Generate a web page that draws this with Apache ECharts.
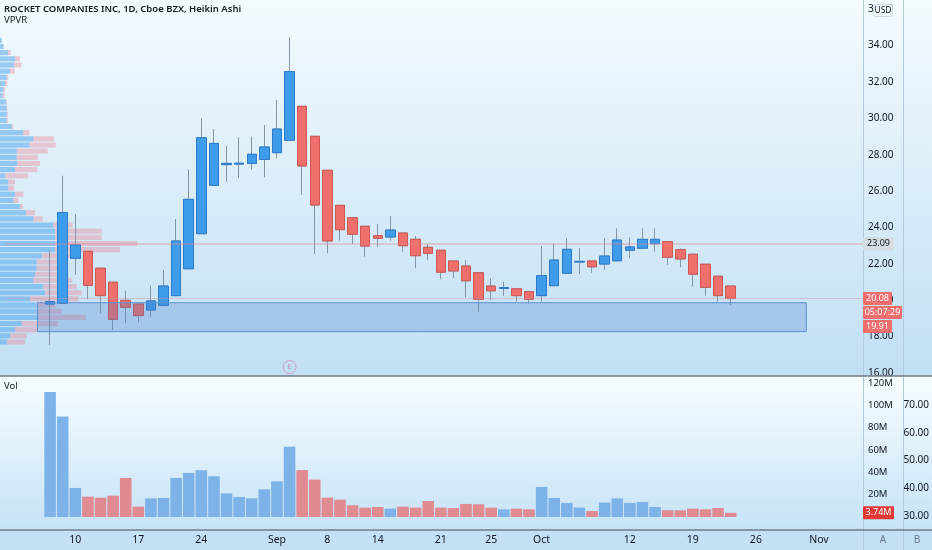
<!DOCTYPE html>
<html>
<head>
<meta charset="utf-8">
<script src="https://cdn.jsdelivr.net/npm/echarts@6/dist/echarts.min.js"></script>
<style>
html,body{margin:0;padding:0;background:#e4f2fb;}
#chart{width:932px;height:550px;}
</style>
</head>
<body>
<div id="chart"></div>
<script>
// trading days (3 empty slots before the IPO, 10 empty slots at the right)
var dates = ['Aug 3','Aug 4','Aug 5','Aug 6','Aug 7','Aug 10','Aug 11','Aug 12','Aug 13','Aug 14',
	'Aug 17','Aug 18','Aug 19','Aug 20','Aug 21','Aug 24','Aug 25','Aug 26','Aug 27','Aug 28','Aug 31',
	'Sep 1','Sep 2','Sep 3','Sep 4','Sep 8','Sep 9','Sep 10','Sep 11','Sep 14','Sep 15','Sep 16','Sep 17','Sep 18',
	'Sep 21','Sep 22','Sep 23','Sep 24','Sep 25','Sep 28','Sep 29','Sep 30','Oct 1','Oct 2','Oct 5','Oct 6','Oct 7',
	'Oct 8','Oct 9','Oct 12','Oct 13','Oct 14','Oct 15','Oct 16','Oct 19','Oct 20','Oct 21','Oct 22','Oct 23',
	'Oct 26','Oct 27','Oct 28','Oct 29','Oct 30','Nov 2','Nov 3','Nov 4','Nov 5'];
var firstDate = 'Aug 6';

// heikin ashi candles: [open, close, low, high]
var candles = [
	[19.78,19.91,17.52,22.75],[19.82,24.81,19.82,26.84],[22.30,23.03,21.38,24.73],[22.68,20.81,20.04,22.68],
	[21.75,20.24,19.27,21.75],[20.98,18.94,18.35,20.98],[19.98,19.60,18.72,20.50],[19.78,19.14,18.77,19.78],
	[19.45,19.95,19.05,20.79],[19.71,20.77,19.71,21.65],[20.24,23.25,20.24,24.46],[21.72,25.54,21.72,27.19],
	[23.65,28.93,23.65,30.00],[26.31,28.62,26.31,29.41],[27.45,27.52,26.51,28.47],[27.48,27.53,26.70,28.95],
	[27.52,28.02,27.19,28.99],[27.74,28.42,26.75,29.63],[28.11,29.41,27.80,31.01],[28.79,32.57,28.79,34.46],
	[30.66,27.38,25.78,30.66],[29.01,25.23,22.53,29.01],[27.14,23.25,22.57,27.14],[25.21,23.87,23.26,25.21],
	[24.53,23.62,23.08,24.53],[24.06,22.97,22.38,24.06],[23.54,23.40,22.90,24.18],[23.47,23.85,23.26,24.62],
	[23.69,22.99,22.66,23.69],[23.34,22.44,21.75,23.52],[22.90,22.57,22.20,23.07],[22.74,21.53,21.14,22.74],
	[22.15,21.60,21.20,22.15],[21.87,21.06,20.15,22.20],[21.50,20.04,19.36,21.50],[20.77,20.51,20.00,21.20],
	[20.64,20.68,20.22,21.01],[20.62,20.24,19.91,20.62],[20.46,20.04,19.82,20.46],[20.24,21.34,19.91,22.97],
	[20.79,22.20,20.79,23.12],[21.47,22.79,21.47,23.40],[22.09,22.13,21.43,22.85],[22.15,21.83,21.50,22.15],
	[21.98,22.42,21.65,23.40],[22.16,23.30,22.16,23.95],[22.74,22.92,22.30,23.45],[22.85,23.34,22.85,23.95],
	[23.10,23.34,22.66,23.95],[23.21,22.35,21.93,23.21],[22.77,22.26,21.80,22.85],[22.52,21.42,20.73,22.52],
	[21.97,20.70,20.24,21.97],[21.31,20.24,19.91,21.31],[20.77,20.08,19.73,20.77]
];

// daily volume, millions
var volumes = [112,90,26,18.2,17.3,19.1,35,9.3,16.7,17,35,39.5,41.9,36.5,21.2,17.9,16.7,24.8,32,62.8,
	42,33.5,17.3,15.5,10.5,8.4,9,7.5,9.3,8.4,14.3,8.4,8,11.7,11.4,8.4,6.9,7.5,6.9,26.9,
	17,12.6,8.4,5.4,12.9,16.7,12.6,13.5,9,6,6,7.5,6.9,8.1,3.74];

// bottom axis labels
var tickDates = ['Aug 10','Aug 17','Aug 24','Sep 1','Sep 8','Sep 14','Sep 21','Sep 25','Oct 1','Oct 12','Oct 19','Oct 26','Nov 2'];
var tickTexts = ['10','17','24','Sep','8','14','21','25','Oct','12','19','26','Nov'];

// visible range volume profile (rows top -> bottom), relative volume
var vpLevels = ['34.29','33.95','33.61','33.27','32.94','32.60','32.26','31.92','31.58','31.24',
	'30.90','30.56','30.23','29.89','29.55','29.21','28.87','28.53','28.19','27.85',
	'27.51','27.18','26.84','26.50','26.16','25.82','25.48','25.14','24.80','24.47',
	'24.13','23.79','23.45','23.11','22.77','22.43','22.09','21.76','21.42','21.08',
	'20.74','20.40','20.06','19.72','19.38','19.04','18.71','18.37','18.03','17.69'];
var vpUp = [1.7,3.3,8.3,15,14,10,6.7,5,3.3,2.7,6,6.7,6.7,6.7,11.7,23.3,33.3,29.3,16.7,16.7,
	17.3,15,4.7,8.3,8.3,15,13.3,20,26,33.3,53.3,55,55,55,55,41.7,36.7,36.7,35,33.3,
	43.3,45,30,36.7,36.7,38.3,21.7,15,10,6.7];
var vpDown = [0,0.7,2.4,5,7.3,4.7,1.6,2.3,1.7,2,0.7,0.6,1.3,1.3,1.6,6,20.7,26.4,31,21,
	22.7,22.3,23.3,6.7,5.7,8.3,5,2.7,9,9.4,19.4,46.7,46.7,82.3,65,29,23.3,21.6,21.7,38.4,
	33.4,36.7,48.3,18.3,25,47.7,36.6,23.3,16.7,18.3];
var vpHigh = 34.46, vpLow = 17.52;

var pocPrice = 23.09;
var lastPrice = 20.08;
var realPrice = 19.91;
var countdown = '05:07:29';
var lastVolume = 3.74;
var zoneTop = 19.85, zoneBottom = 18.26, zoneFrom = 'Aug 5', zoneTo = 'Oct 30';
var earnDate = 'Sep 2', earnPrice = 16.31;

var upColor = '#3f9ceb', upBorder = '#2a7cca', downColor = '#ef6f6c', downBorder = '#cf5754';
var wickColor = '#8695a6';
var font = 'Noto Sans';

// layout of the panes
var W = 932, axisX = 863, axis2X = 903;
var priceTop = 9.3, priceH = 363.4, priceMin = 16, priceMax = 36;
function priceY(p){ return priceTop + (priceMax - p) / (priceMax - priceMin) * priceH; }

var chart = echarts.init(document.getElementById('chart'));

var off = dates.indexOf(firstDate);
var candleData = dates.map(function(d, i){
	var c = candles[i - off];
	return c ? c : '-';
});
var bodyData = dates.map(function(d, i){
	var c = candles[i - off];
	return c ? [c[0], c[1], Math.min(c[0], c[1]), Math.max(c[0], c[1])] : '-';
});
var volData = dates.map(function(d, i){
	var c = candles[i - off];
	if(!c) return '-';
	return {value: volumes[i - off], itemStyle: {color: c[1] >= c[0] ? '#7db3e8' : '#e08a92'}};
});

function grad(c1, c2){
	return new echarts.graphic.LinearGradient(0, 0, 0, 1, [{offset: 0, color: c1}, {offset: 1, color: c2}]);
}

option = {
	animation: false,
	textStyle: {fontFamily: font},
	grid: [
		{left: 6, right: W - axisX, top: priceTop, height: priceH},
		{left: 6, right: W - axisX, top: 383, height: 134},
		{left: 0, width: 300, top: priceY(vpHigh), height: priceY(vpLow) - priceY(vpHigh)},
		{left: 6, right: W - axis2X, top: 377.25, height: 138.75}
	],
	xAxis: [
		{type: 'category', gridIndex: 0, data: dates, show: false},
		{type: 'category', gridIndex: 1, data: dates,
			axisLine: {show: false}, axisTick: {show: false},
			axisLabel: {
				margin: 18, color: '#131722', fontSize: 10.5,
				interval: function(i, v){ return tickDates.indexOf(v) >= 0; },
				formatter: function(v){ return tickTexts[tickDates.indexOf(v)]; }
			}},
		{type: 'value', gridIndex: 2, min: 0, max: 300, show: false},
		{type: 'value', gridIndex: 3, min: 0, max: 1, show: false}
	],
	yAxis: [
		{type: 'value', gridIndex: 0, position: 'right', min: priceMin, max: priceMax, interval: 2,
			splitLine: {show: false}, axisLine: {show: false}, axisTick: {show: false},
			axisLabel: {color: '#131722', fontSize: 10, margin: 5, formatter: function(v){ return v.toFixed(2); }}},
		{type: 'value', gridIndex: 1, position: 'right', min: 0, max: 120, interval: 20,
			splitLine: {show: false}, axisLine: {show: false}, axisTick: {show: false},
			axisLabel: {color: '#131722', fontSize: 9.5, margin: 5, showMinLabel: false, formatter: function(v){ return v + 'M'; }}},
		{type: 'category', gridIndex: 2, data: vpLevels, inverse: true, show: false},
		{type: 'value', gridIndex: 3, position: 'right', min: 30, max: 80, interval: 10,
			splitLine: {show: false}, axisLine: {show: false}, axisTick: {show: false},
			axisLabel: {color: '#131722', fontSize: 10, margin: 5, formatter: function(v){ return v > 75 ? '' : v.toFixed(2); }}}
	],
	series: [
		{
			name: 'vpUp', type: 'bar', xAxisIndex: 2, yAxisIndex: 2, stack: 'vp', data: vpUp,
			barWidth: 5.2, silent: true, z: 1, itemStyle: {color: 'rgba(70,160,235,0.5)'}
		},
		{
			name: 'vpDown', type: 'bar', xAxisIndex: 2, yAxisIndex: 2, stack: 'vp', data: vpDown,
			barWidth: 5.2, silent: true, z: 1, itemStyle: {color: 'rgba(238,120,135,0.35)'}
		},
		{
			name: 'wick', type: 'candlestick', xAxisIndex: 0, yAxisIndex: 0, data: candleData, barWidth: 10, z: 2,
			itemStyle: {color: wickColor, color0: wickColor, borderColor: wickColor, borderColor0: wickColor, borderWidth: 1}
		},
		{
			name: 'body', type: 'candlestick', xAxisIndex: 0, yAxisIndex: 0, data: bodyData, barWidth: 10, z: 3,
			itemStyle: {color: upColor, color0: downColor, borderColor: upBorder, borderColor0: downBorder, borderWidth: 1},
			markLine: {
				silent: true, symbol: 'none', label: {show: false},
				data: [
					{yAxis: pocPrice, lineStyle: {color: 'rgba(232,130,140,0.45)', width: 1.5, type: 'solid'}},
					{yAxis: lastPrice, lineStyle: {color: 'rgba(200,150,160,0.45)', width: 1, type: 'solid'}}
				]
			},
			markArea: {
				silent: true, z: 6,
				itemStyle: {color: 'rgba(70,125,205,0.27)', borderColor: '#5a92d4', borderWidth: 1},
				data: [[{xAxis: zoneFrom, yAxis: zoneTop}, {xAxis: zoneTo, yAxis: zoneBottom}]]
			}
		},
		{
			name: 'earnings', type: 'scatter', xAxisIndex: 0, yAxisIndex: 0, data: [[earnDate, earnPrice]],
			symbol: 'circle', symbolSize: 13, silent: true, z: 4,
			itemStyle: {color: 'rgba(255,255,255,0)', borderColor: '#cf93b4', borderWidth: 1},
			label: {show: true, position: 'inside', formatter: 'E', color: '#b97c99', fontSize: 7.5}
		},
		{
			name: 'Vol', type: 'bar', xAxisIndex: 1, yAxisIndex: 1, data: volData, barCategoryGap: '8%', z: 2
		}
	]
};
chart.setOption(option);

// decorations: pane backgrounds, separators, captions and price tags
var g = [
	{type: 'rect', z: -10, shape: {x: 0, y: 0, width: W, height: 376}, style: {fill: grad('#f3fbfe', '#c1dff4')}},
	{type: 'rect', z: -10, shape: {x: 0, y: 376, width: W, height: 154}, style: {fill: grad('#f6fdff', '#c6e3f7')}},
	{type: 'rect', z: -10, shape: {x: 0, y: 530, width: W, height: 20}, style: {fill: '#c3e0f5'}},
	{type: 'line', z: 50, shape: {x1: axisX + 0.5, y1: 0, x2: axisX + 0.5, y2: 550}, style: {stroke: '#b2cadc', lineWidth: 1}},
	{type: 'line', z: 50, shape: {x1: axis2X + 0.5, y1: 0, x2: axis2X + 0.5, y2: 550}, style: {stroke: '#b2cadc', lineWidth: 1}},
	{type: 'line', z: 50, shape: {x1: 0, y1: 376, x2: W, y2: 376}, style: {stroke: '#6f7c88', lineWidth: 1.5}},
	{type: 'line', z: 50, shape: {x1: 0, y1: 530, x2: W, y2: 530}, style: {stroke: '#6f7c88', lineWidth: 1.5}},
	{type: 'text', z: 50, left: 4, top: 4, style: {text: 'ROCKET COMPANIES INC, 1D, Cboe BZX, Heikin Ashi', fill: '#131722', font: '600 9.5px "Noto Sans"'}},
	{type: 'text', z: 50, left: 4, top: 15, style: {text: 'VPVR', fill: '#131722', font: '9.5px "Noto Sans"'}},
	{type: 'text', z: 50, left: 4, top: 381, style: {text: 'Vol', fill: '#131722', font: '9.5px "Noto Sans"'}},
	{type: 'text', z: 50, x: 883, y: 540, style: {text: 'A', fill: '#6a7786', font: '10px "Noto Sans"', align: 'center', verticalAlign: 'middle'}},
	{type: 'text', z: 50, x: 917, y: 540, style: {text: 'B', fill: '#6a7786', font: '10px "Noto Sans"', align: 'center', verticalAlign: 'middle'}},
	{type: 'rect', z: 60, shape: {x: 873.5, y: 4.5, width: 19, height: 12, r: 2}, style: {fill: '#f1f9fd', stroke: '#c9d9e5', lineWidth: 1}},
	{type: 'text', z: 61, x: 883, y: 10.7, style: {text: 'USD', fill: '#131722', font: '8.5px "Noto Sans"', align: 'center', verticalAlign: 'middle'}}
];

function tag(y, text, bg, fg, w){
	g.push({type: 'rect', z: 70, shape: {x: axisX, y: y - 6.5, width: w, height: 13, r: 1}, style: {fill: bg}});
	g.push({type: 'text', z: 71, x: axisX + w / 2, y: y, style: {text: text, fill: fg, font: '9px "Noto Sans"', align: 'center', verticalAlign: 'middle'}});
}
var lastY = chart.convertToPixel({yAxisIndex: 0}, lastPrice);
tag(chart.convertToPixel({yAxisIndex: 0}, pocPrice), pocPrice.toFixed(2), '#d5dce2', '#131722', 31);
tag(lastY, lastPrice.toFixed(2), '#ef6d6d', '#ffffff', 29);
tag(lastY + 14, countdown, '#ef6d6d', '#ffffff', 39);
tag(lastY + 28, realPrice.toFixed(2), '#ef6d6d', '#ffffff', 29);
tag(chart.convertToPixel({yAxisIndex: 1}, lastVolume), lastVolume + 'M', '#e53935', '#ffffff', 31);

chart.setOption({graphic: g});
</script>
</body>
</html>
